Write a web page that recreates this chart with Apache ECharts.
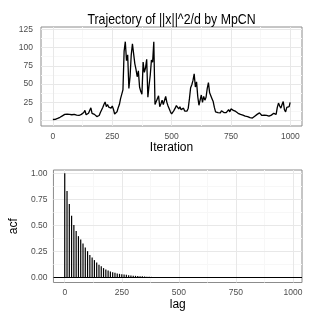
<!DOCTYPE html>
<html><head><meta charset="utf-8">
<script src="https://cdn.jsdelivr.net/npm/echarts@6/dist/echarts.min.js"></script>
<style>html,body{margin:0;padding:0;background:#fff}#c{width:315px;height:315px}</style>
</head><body><div id="c"></div>
<script>
const iterations = [0,5,10,15,20,25,30,35,40,45,50,55,60,65,70,75,80,85,90,95,
100,105,110,115,120,125,130,135,140,145,150,155,160,165,170,175,180,185,190,195,
200,205,210,215,220,225,230,235,240,245,250,255,260,265,270,275,280,285,290,295,
300,305,310,315,320,325,330,335,340,345,350,355,360,365,370,375,380,385,390,395,
400,405,410,415,420,425,430,435,440,445,450,455,460,465,470,475,480,485,490,495,
500,505,510,515,520,525,530,535,540,545,550,555,560,565,570,575,580,585,590,595,
600,605,610,615,620,625,630,635,640,645,650,655,660,665,670,675,680,685,690,695,
700,705,710,715,720,725,730,735,740,745,750,755,760,765,770,775,780,785,790,795,
800,805,810,815,820,825,830,835,840,845,850,855,860,865,870,875,880,885,890,895,
900,905,910,915,920,925,930,935,940,945,950,955,960,965,970,975,980,985,990,995,999];
const trajectory = [1.5,1.2,1.8,2.5,3.0,3.5,4.5,5.0,6.5,7.0,8.5,10.0,9.0,10.5,8.5,9.0,8.0,9.5,8.5,9.0,
7.5,8.0,7.0,5.5,8.5,9.5,11.0,14.0,8.0,7.0,10.0,12.5,17.5,10.0,7.5,8.5,6.5,5.5,6.0,7.0,
11.0,14.5,18.0,22.0,25.5,19.0,22.0,18.5,21.0,17.0,20.0,15.5,9.0,8.0,12.0,17.5,22.0,30.0,28.0,42.0,
95.0,108.0,82.0,90.0,44.0,60.0,90.0,105.0,103.0,78.0,70.0,60.0,68.0,46.0,40.0,36.0,80.0,66.0,72.0,84.0,
32.0,48.0,62.0,83.0,80.0,108.0,22.0,20.0,30.0,34.0,19.0,23.0,28.0,22.0,20.0,33.0,25.0,20.0,18.0,12.0,
9.0,8.5,14.0,17.0,20.5,18.0,16.0,19.0,15.0,14.0,17.0,13.0,11.5,13.0,17.0,30.0,45.0,49.0,55.0,64.0,
46.0,53.0,33.0,21.0,28.0,35.0,25.0,33.0,28.0,32.0,44.0,52.0,38.0,36.0,30.0,26.0,18.0,12.0,10.5,11.0,
10.0,10.5,13.5,14.0,11.0,12.0,11.0,13.5,15.0,12.0,16.0,16.5,14.0,12.0,12.5,13.0,10.0,9.0,8.5,8.0,
7.5,7.0,6.0,5.5,5.5,4.5,4.0,3.2,3.5,5.0,6.0,7.0,8.5,10.0,10.5,8.0,7.0,6.5,7.5,8.0,
7.0,7.0,6.0,6.5,7.5,9.0,10.0,9.0,8.5,18.0,24.0,20.0,17.0,22.0,26.0,15.0,12.0,18.0,17.0,19.0,25.0];
const lags = [0,10,20,30,40,50,60,70,80,90,100,110,120,130,140,150,160,170,180,190,
200,210,220,230,240,250,260,270,280,290,300,310,320,330,340,350,360,370,380,390,
400,410,420,430,440,450,460,470,480,490,500,510,520,530,540,550,560,570,580,590,
600,610,620,630,640,650,660,670,680,690,700,710,720,730,740,750,760,770,780,790,
800,810,820,830,840,850,860,870,880,890,900,910,920,930,940,950,960,970,980,990];
const acf = [1.000,0.830,0.705,0.593,0.503,0.446,0.397,0.365,0.327,0.288,
0.253,0.215,0.192,0.167,0.144,0.122,0.109,0.090,0.077,0.067,
0.058,0.051,0.045,0.038,0.035,0.032,0.029,0.026,0.022,0.019,
0.018,0.016,0.014,0.013,0.011,0.010,0.008,0.007,0.006,0.005,
0.004,0.003,0.003,0.002,0.002,0.001,0.001,0.001,0.000,0.000,
-0.001,0.000,-0.001,0.000,0.000,-0.001,0.000,0.000,-0.001,0.000,
0.000,-0.001,0.000,0.000,0.000,-0.001,0.000,0.000,0.000,0.000,
-0.001,0.000,0.000,0.000,0.000,0.000,-0.001,0.000,0.000,0.000,
0.000,0.000,0.000,-0.001,0.000,0.000,0.000,0.000,0.000,0.000,
0.000,0.000,0.000,0.000,0.000,0.000,0.000,0.000,0.000,0.000];
const xTicks = [0,250,500,750,1000];
const xMinor = [125,375,625,875];
const yTicksTop = [0,25,50,75,100,125];
const yMinorTop = [12.5,37.5,62.5,87.5,112.5];
const yTicksBot = [0,0.25,0.5,0.75,1.0];
const yMinorBot = [0.125,0.375,0.625,0.875];
const titleText = 'Trajectory of ||x||^2/d by MpCN';

const FONT = '"Liberation Sans",Arial,sans-serif';
const chart = echarts.init(document.getElementById('c'), null, {renderer:'canvas'});
const labelStyle = {color:'#4d4d4d', fontSize:8.5, fontFamily:FONT};
const nameStyle = {color:'#000', fontSize:12, fontFamily:FONT};
const tickStyle = {show:true, length:3.5, lineStyle:{color:'#7f7f7f', width:1}};
function gridLines(xs, ys){
  return [].concat(xs.map(v=>({xAxis:v})), ys.map(v=>({yAxis:v})));
}
function xAxisDef(idx, min, max, name){
  return {type:'value', gridIndex:idx, min:min, max:max, name:name, nameLocation:'middle', nameGap:12,
    nameTextStyle:nameStyle, axisLine:{show:false},
    axisTick:Object.assign({customValues:xTicks}, tickStyle),
    axisLabel:Object.assign({customValues:xTicks, margin:6, formatter:v=>String(v)}, labelStyle),
    splitLine:{show:false}};
}
function yAxisDef(idx, min, max, ticks, fmt, name, margin){
  return {type:'value', gridIndex:idx, min:min, max:max, name:name||'', nameLocation:'middle', nameGap:24,
    nameRotate:90, nameTextStyle:nameStyle, axisLine:{show:false},
    axisTick:Object.assign({customValues:ticks}, tickStyle),
    axisLabel:Object.assign({customValues:ticks, margin:margin, formatter:fmt}, labelStyle),
    splitLine:{show:false}};
}
function gridSeries(xi, color, xs, ys){
  return {type:'line', xAxisIndex:xi, yAxisIndex:xi, silent:true, z:1, data:[],
    markLine:{silent:true, symbol:'none', label:{show:false}, animation:false,
      lineStyle:{color:color, width:1, type:'solid'}, data:gridLines(xs,ys)}};
}
const option = {
  animation:false,
  backgroundColor:'#fff',
  graphic:[{type:'text', x:171.5, y:20, scaleX:0.85, silent:true,
    style:{text:titleText, fontSize:14.5, fontFamily:FONT, fill:'#000', textAlign:'center', textVerticalAlign:'middle'}}],
  grid:[
    {left:41, top:27, width:261, height:99, show:true, borderColor:'#8c8c8c', borderWidth:1, backgroundColor:'#fff'},
    {left:43.5, top:170, width:258.5, height:112.5, show:true, borderColor:'#8c8c8c', borderWidth:1, backgroundColor:'#fff'}
  ],
  xAxis:[ xAxisDef(0,-50,1049,'Iteration'), xAxisDef(1,-49.5,1039.5,'lag') ],
  yAxis:[
    yAxisDef(0,-7.4,128.1,yTicksTop,v=>String(v),'',8),
    yAxisDef(1,-0.048,1.032,yTicksBot,v=>v.toFixed(2),'acf',6)
  ],
  series:[
    gridSeries(0,'#f7f7f7',xMinor,yMinorTop),
    gridSeries(0,'#e8e8e8',xTicks,yTicksTop),
    gridSeries(1,'#f7f7f7',xMinor,yMinorBot),
    gridSeries(1,'#e8e8e8',xTicks,yTicksBot),
    {type:'line', xAxisIndex:0, yAxisIndex:0, z:5, showSymbol:false, symbol:'none',
      lineStyle:{color:'#000', width:1.3}, data:iterations.map((x,i)=>[x,trajectory[i]])},
    {type:'bar', xAxisIndex:1, yAxisIndex:1, z:5, barWidth:1.2, itemStyle:{color:'#000'},
      data:lags.map((x,i)=>[x,acf[i]]),
      markLine:{silent:true, symbol:'none', label:{show:false}, animation:false,
        lineStyle:{color:'#000', width:1, type:'solid'}, data:[{yAxis:0}]}}
  ]
};
chart.setOption(option);
</script></body></html>
